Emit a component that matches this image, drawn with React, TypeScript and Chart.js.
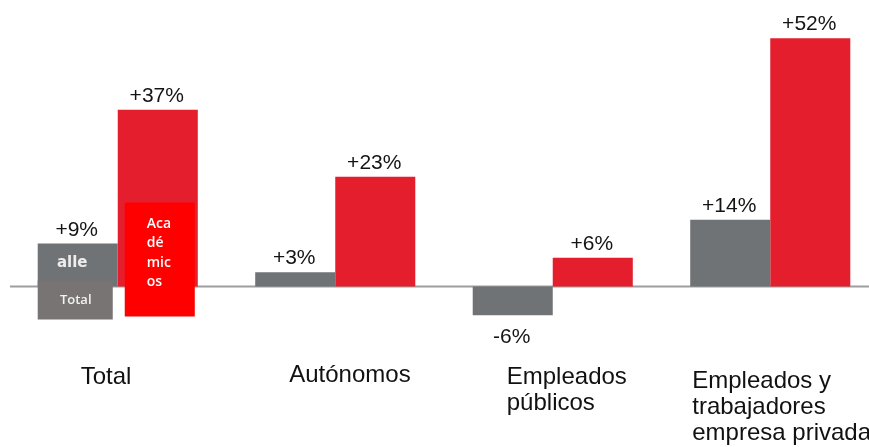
import React, { useEffect, useRef } from "react";
import { Chart, registerables } from "chart.js";

Chart.register(...registerables);

// ---- data ----
const categories: string[][] = [
  ["Total"],
  ["Autónomos"],
  ["Empleados", "públicos"],
  ["Empleados y", "trabajadores", "empresa privada"],
];
const seriesNames = ["alle", "Académicos"];
const alleValues = [9, 3, -6, 14];
const academicosValues = [37, 23, 6, 52];
const grayTagTop = "alle";
const grayTagBottom = "Total";
const redTagLines = ["Aca", "dé", "mic", "os"];
const yMin = -20;
const yMax = 60;

// ---- styles / layout ----
const GRAY = "#707375";
const RED = "#e41e2c";
const labelLayout = [
  { dx: -37, y: 384 },
  { dx: -46, y: 382 },
  { dx: -46, y: 384 },
  { dx: -78, y: 388 },
];

const decorPlugin = {
  id: "decor",
  beforeDatasetsDraw(chart: any) {
    const ctx = chart.ctx;
    const zeroY = chart.scales.y.getPixelForValue(0);
    ctx.save();
    ctx.strokeStyle = "#9e9e9e";
    ctx.lineWidth = 2;
    ctx.beginPath();
    ctx.moveTo(10, zeroY);
    ctx.lineTo(chart.width, zeroY);
    ctx.stroke();
    ctx.restore();
  },
  afterDatasetsDraw(chart: any) {
    const ctx = chart.ctx;
    const yScale = chart.scales.y;
    const xScale = chart.scales.x;
    const zeroY = yScale.getPixelForValue(0);
    ctx.save();

    // overlay tags on the "Total" group
    const g = chart.getDatasetMeta(0).data[0].getProps(["x", "width"], true);
    const gLeft = g.x - g.width / 2;
    ctx.fillStyle = "#787473";
    ctx.fillRect(gLeft, zeroY - 6, g.width - 5, 39);
    ctx.fillStyle = "#ededed";
    ctx.textAlign = "center";
    ctx.textBaseline = "middle";
    ctx.font = 'bold 15px "DejaVu Sans"';
    ctx.fillText(grayTagTop, gLeft + 34.5, zeroY - 23);
    ctx.fillStyle = "#f2f2f2";
    ctx.font = '600 13px "Open Sans"';
    ctx.fillText(grayTagBottom, gLeft + 38, zeroY + 14);

    const r = chart.getDatasetMeta(1).data[0].getProps(["x", "width"], true);
    const rLeft = r.x - r.width / 2;
    ctx.fillStyle = "#ff0000";
    ctx.fillRect(rLeft + 7, zeroY - 84, r.width - 10, 114);
    ctx.fillStyle = "#ffffff";
    ctx.textAlign = "left";
    ctx.textBaseline = "alphabetic";
    ctx.font = '600 14px "Open Sans"';
    redTagLines.forEach((t, i) => {
      ctx.fillText(t, rLeft + 29, zeroY - 59 + i * 19.5);
    });

    // value labels
    ctx.fillStyle = "#141414";
    ctx.font = '21px "Liberation Sans", Arial, sans-serif';
    ctx.textAlign = "center";
    ctx.textBaseline = "alphabetic";
    chart.data.datasets.forEach((ds: any, d: number) => {
      const meta = chart.getDatasetMeta(d);
      meta.data.forEach((bar: any, i: number) => {
        const v = ds.data[i] as number;
        const p = bar.getProps(["x", "y"], true);
        const txt = (v > 0 ? "+" : "") + v + "%";
        if (v >= 0) ctx.fillText(txt, p.x - 1, p.y - 8);
        else ctx.fillText(txt, p.x - 1, p.y + 28);
      });
    });

    // category labels
    ctx.fillStyle = "#111111";
    ctx.font = '24px "Liberation Sans", Arial, sans-serif';
    ctx.textAlign = "left";
    categories.forEach((lines, i) => {
      const cx = xScale.getPixelForValue(i);
      const lay = labelLayout[i];
      lines.forEach((ln, j) => {
        ctx.fillText(ln, cx + lay.dx, lay.y + j * 26);
      });
    });
    ctx.restore();
  },
};

export default function App() {
  const ref = useRef<HTMLCanvasElement | null>(null);
  useEffect(() => {
    document.body.style.margin = "0";
    document.body.style.overflow = "hidden";
    const chart = new Chart(ref.current as HTMLCanvasElement, {
      type: "bar",
      data: {
        labels: categories.map((c) => c.join(" ")),
        datasets: [
          {
            label: seriesNames[0],
            data: alleValues,
            backgroundColor: GRAY,
            categoryPercentage: 0.736,
            barPercentage: 1,
          },
          {
            label: seriesNames[1],
            data: academicosValues,
            backgroundColor: RED,
            categoryPercentage: 0.736,
            barPercentage: 1,
          },
        ],
      },
      options: {
        responsive: false,
        animation: false,
        layout: { padding: { left: 9, right: 1, top: 0, bottom: 65 } },
        plugins: { legend: { display: false }, tooltip: { enabled: false } },
        scales: {
          x: { display: false, grid: { display: false } },
          y: { display: false, min: yMin, max: yMax, grid: { display: false } },
        },
      },
      plugins: [decorPlugin],
    });
    return () => chart.destroy();
  }, []);
  return (
    <div
      style={{
        position: "fixed",
        left: 0,
        top: 0,
        width: 869,
        height: 447,
        overflow: "hidden",
        background: "#ffffff",
      }}
    >
      <canvas ref={ref} width={880} height={447} style={{ width: 880, height: 447, display: "block" }} />
    </div>
  );
}
